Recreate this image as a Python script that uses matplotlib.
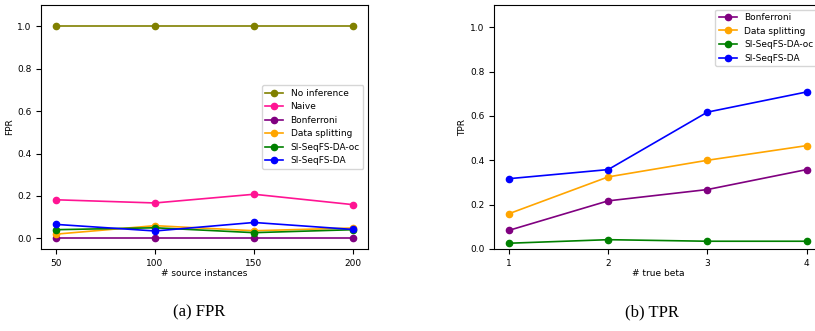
import numpy as np
import matplotlib.pyplot as plt

# FPR panel
n_source = [50, 100, 150, 200]
fpr_no_inference = [1.0, 1.0, 1.0, 1.0]
fpr_naive = [0.182, 0.167, 0.208, 0.159]
fpr_bonferroni = [0.0, 0.0, 0.0, 0.0]
fpr_data_splitting = [0.020, 0.060, 0.036, 0.049]
fpr_oc = [0.041, 0.050, 0.027, 0.041]
fpr_da = [0.066, 0.035, 0.075, 0.042]

# TPR panel
n_true_beta = [1, 2, 3, 4]
tpr_bonferroni = [0.084, 0.217, 0.268, 0.358]
tpr_data_splitting = [0.159, 0.325, 0.400, 0.466]
tpr_oc = [0.026, 0.042, 0.035, 0.035]
tpr_da = [0.317, 0.358, 0.617, 0.708]

W, H = 815, 331
fs = 6.5
lw = 1.2
ms = 4.5

fig = plt.figure(figsize=(W / 100, H / 100), dpi=100)

ax1 = fig.add_axes([41 / W, (H - 249) / H, (368 - 41) / W, (249 - 5) / H])
ax1.plot(n_source, fpr_no_inference, 'o-', color='olive', lw=lw, ms=ms, label='No inference')
ax1.plot(n_source, fpr_naive, 'o-', color='deeppink', lw=lw, ms=ms, label='Naive')
ax1.plot(n_source, fpr_bonferroni, 'o-', color='purple', lw=lw, ms=ms, label='Bonferroni')
ax1.plot(n_source, fpr_data_splitting, 'o-', color='orange', lw=lw, ms=ms, label='Data splitting')
ax1.plot(n_source, fpr_oc, 'o-', color='green', lw=lw, ms=ms, label='SI-SeqFS-DA-oc')
ax1.plot(n_source, fpr_da, 'o-', color='blue', lw=lw, ms=ms, label='SI-SeqFS-DA')
ax1.set_ylim(-0.05, 1.1)
ax1.set_xticks(n_source)
ax1.set_yticks([0.0, 0.2, 0.4, 0.6, 0.8, 1.0])
ax1.set_xlabel('# source instances', fontsize=fs, labelpad=1)
ax1.set_ylabel('FPR', fontsize=fs, labelpad=2)
ax1.tick_params(labelsize=fs)
ax1.legend(loc='center right', fontsize=fs)

ax2 = fig.add_axes([494 / W, (H - 249) / H, (821.5 - 494) / W, (249 - 5) / H])
ax2.plot(n_true_beta, tpr_bonferroni, 'o-', color='purple', lw=lw, ms=ms, label='Bonferroni')
ax2.plot(n_true_beta, tpr_data_splitting, 'o-', color='orange', lw=lw, ms=ms, label='Data splitting')
ax2.plot(n_true_beta, tpr_oc, 'o-', color='green', lw=lw, ms=ms, label='SI-SeqFS-DA-oc')
ax2.plot(n_true_beta, tpr_da, 'o-', color='blue', lw=lw, ms=ms, label='SI-SeqFS-DA')
ax2.set_ylim(0, 1.1)
ax2.set_xticks(n_true_beta)
ax2.set_yticks([0.0, 0.2, 0.4, 0.6, 0.8, 1.0])
ax2.set_xlabel('# true beta', fontsize=fs, labelpad=1)
ax2.set_ylabel('TPR', fontsize=fs, labelpad=2)
ax2.tick_params(labelsize=fs)
ax2.legend(loc='upper right', fontsize=fs)

fig.text(199 / W, 1 - 312 / H, '(a) FPR', family='Liberation Serif', fontsize=12,
         ha='center', va='center')
fig.text(652 / W, 1 - 312 / H, '(b) TPR', family='Liberation Serif', fontsize=12,
         ha='center', va='center')

fig.savefig('out.png', dpi=100)
